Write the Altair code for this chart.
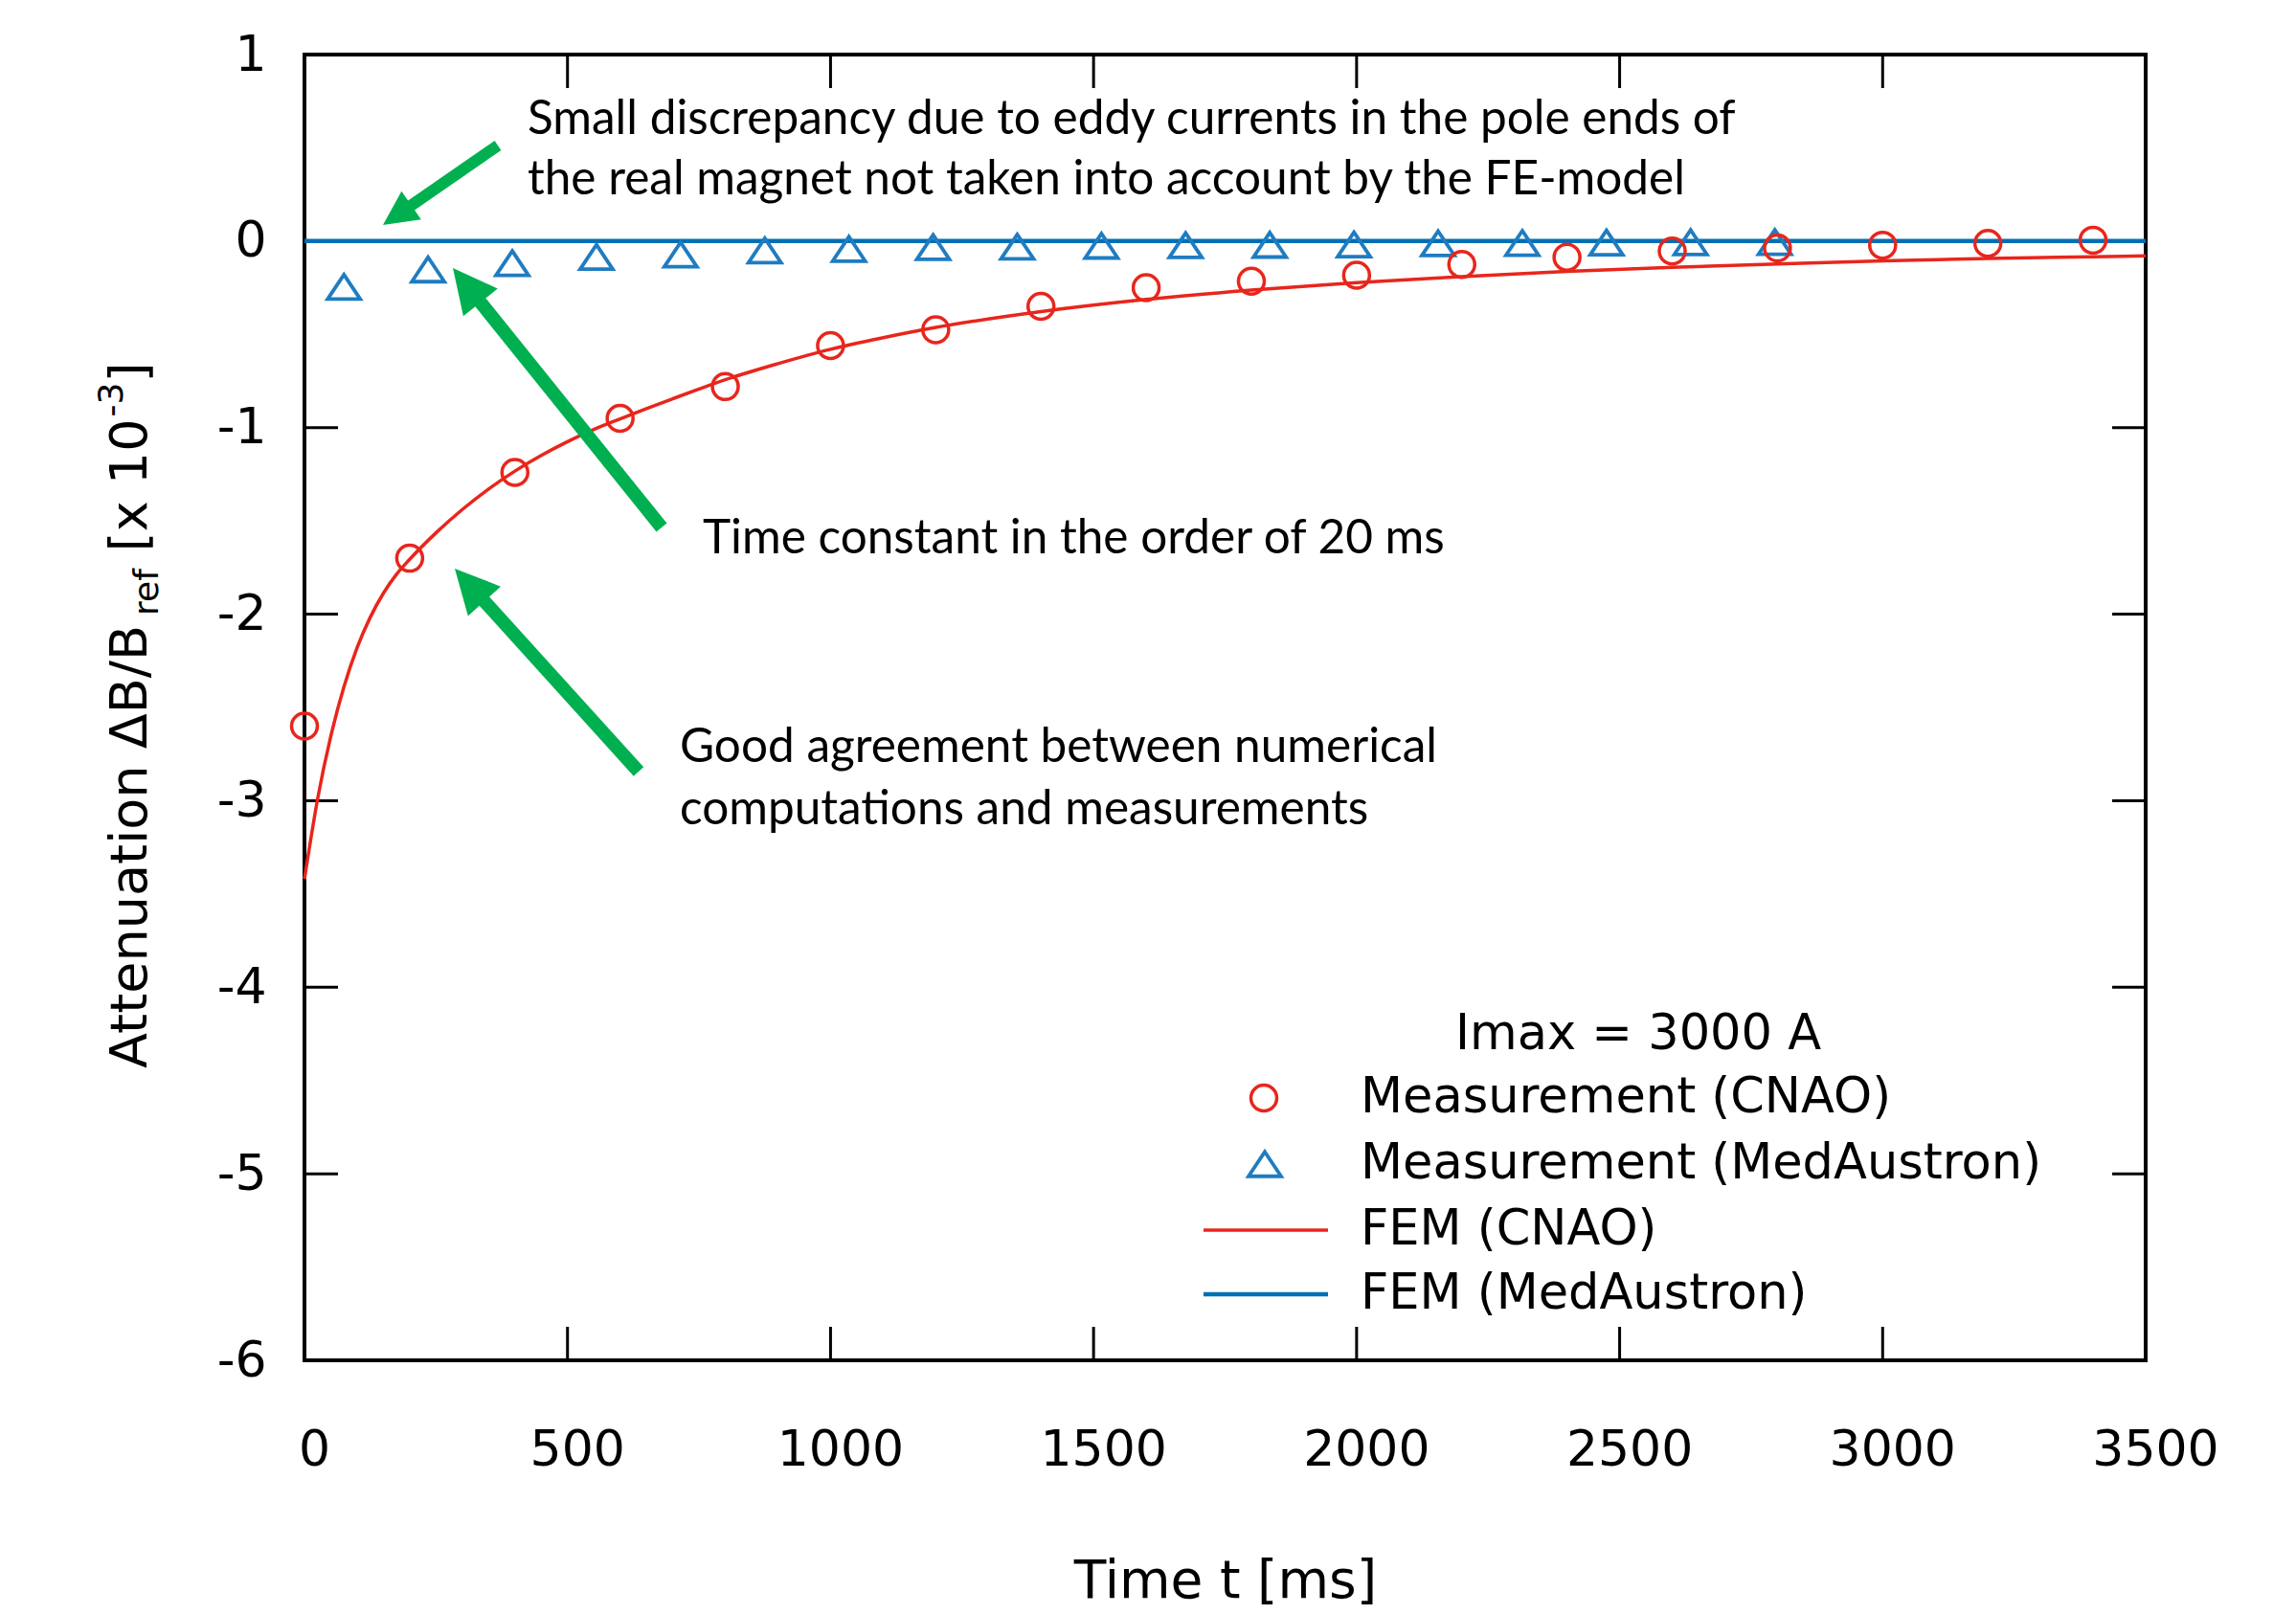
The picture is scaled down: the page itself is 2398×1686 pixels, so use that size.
import math
import altair as alt
import pandas as pd

# ---------------- data ----------------
cnao_meas_t = [0, 200, 400, 600, 800, 1000, 1200, 1400, 1600, 1800, 2000, 2200, 2400, 2600, 2800, 3000, 3200, 3400]
cnao_meas_y = [-2.60, -1.70, -1.24, -0.95, -0.78, -0.56, -0.475, -0.35, -0.25, -0.215, -0.183, -0.125,
               -0.087, -0.053, -0.037, -0.022, -0.012, 0.005]

med_meas_t = [75, 235, 395, 555, 715, 875, 1035, 1195, 1355, 1515, 1675, 1835, 1995, 2155, 2315, 2475, 2635, 2795]
med_meas_y = [-0.245, -0.152, -0.118, -0.085, -0.072, -0.05, -0.042, -0.032, -0.03, -0.025, -0.022, -0.02,
              -0.018, -0.012, -0.01, -0.008, -0.006, -0.005]

fem_cnao_t = [0, 25, 50, 75, 100, 125, 150, 175, 200, 250, 300, 350, 400, 450, 500, 550, 600, 650, 700, 750,
              800, 900, 1000, 1100, 1200, 1400, 1600, 1800, 2000, 2200, 2400, 2600, 2800, 3000, 3200, 3400, 3500]
fem_cnao_y = [-3.42, -2.99, -2.655, -2.39, -2.18, -2.017, -1.888, -1.786, -1.706, -1.564, -1.439, -1.329,
              -1.233, -1.149, -1.075, -1.010, -0.953, -0.898, -0.845, -0.793, -0.743, -0.657, -0.58, -0.518,
              -0.463, -0.378, -0.313, -0.263, -0.223, -0.19, -0.163, -0.141, -0.122, -0.106, -0.093, -0.084,
              -0.079]

fem_med_t = [0, 3500]
fem_med_y = [0.0, 0.0]

x_tick_values = [0, 500, 1000, 1500, 2000, 2500, 3000, 3500]
y_tick_values = [-6, -5, -4, -3, -2, -1, 0, 1]
inner_x_ticks = [500, 1000, 1500, 2000, 2500, 3000]
inner_y_ticks = [-5, -4, -3, -2, -1, 0]

legend_title = "Imax = 3000 A"
legend_labels = ["Measurement (CNAO)", "Measurement (MedAustron)", "FEM (CNAO)", "FEM (MedAustron)"]

note_lines = [
    "Small discrepancy due to eddy currents in the pole ends of",
    "the real magnet not taken into account by the FE-model",
    "Time constant in the order of 20 ms",
    "Good agreement between numerical",
    "computations and measurements",
]

x_title = "Time t [ms]"
y_title_pieces = ["Attenuation \u0394B/B", "ref", "[x 10", "-3", "]"]

# ---------------- layout / style ----------------
X_DOMAIN = [0, 3500]
Y_DOMAIN = [-6, 1]
W, H = 1923, 1364
LEFT, TOP = 318, 57
PAD_RIGHT = 2398 - LEFT - W
PAD_BOTTOM = 1686 - TOP - H

RED = "#e8261c"
BLUE_LINE = "#0070b4"
BLUE_MARK = "#1f7cc0"
GREEN = "#00b050"
AX_FONT = "DejaVu Sans"
NOTE_FONT = "Lato"


def dx(page_x):
    return X_DOMAIN[0] + (page_x - LEFT) / W * (X_DOMAIN[1] - X_DOMAIN[0])


def dy(page_y):
    return Y_DOMAIN[1] - (page_y - TOP) / H * (Y_DOMAIN[1] - Y_DOMAIN[0])


XSCALE = alt.Scale(domain=X_DOMAIN, nice=False, zero=False)
YSCALE = alt.Scale(domain=Y_DOMAIN, nice=False, zero=False)

XAXIS = alt.Axis(values=x_tick_values, title=x_title, format="d", labelOffset=10, labelPadding=68,
                 titlePadding=85, domain=False, ticks=False, tickSize=0, grid=False, labelFontSize=52,
                 titleFontSize=55, labelFont=AX_FONT, titleFont=AX_FONT, titleFontWeight="normal",
                 labelColor="black", titleColor="black", labelFlush=False, labelOverlap=False)
YAXIS = alt.Axis(values=y_tick_values, title="", labelPadding=40, domain=False, ticks=False, tickSize=0,
                 grid=False, labelFontSize=52, labelFont=AX_FONT, labelColor="black", labelOverlap=False,
                 labelExpr="datum.value < 0 ? '-' + (-datum.value) : '' + datum.value")


def X(f="x"):
    return alt.X(f"{f}:Q", scale=XSCALE, axis=XAXIS)


def Y(f="y"):
    return alt.Y(f"{f}:Q", scale=YSCALE, axis=YAXIS)


# ---------------- inward ticks on all four sides ----------------
tlx = 35 / W * (X_DOMAIN[1] - X_DOMAIN[0])
tly = 35 / H * (Y_DOMAIN[1] - Y_DOMAIN[0])
tick_rows = []
for v in inner_x_ticks:
    tick_rows.append({"x": v, "y": Y_DOMAIN[0], "x2": v, "y2": Y_DOMAIN[0] + tly})
    tick_rows.append({"x": v, "y": Y_DOMAIN[1], "x2": v, "y2": Y_DOMAIN[1] - tly})
for v in inner_y_ticks:
    tick_rows.append({"x": X_DOMAIN[0], "y": v, "x2": X_DOMAIN[0] + tlx, "y2": v})
    tick_rows.append({"x": X_DOMAIN[1], "y": v, "x2": X_DOMAIN[1] - tlx, "y2": v})
ticks = alt.Chart(pd.DataFrame(tick_rows)).mark_rule(color="black", strokeWidth=3).encode(
    x=X(), y=Y(), x2="x2:Q", y2="y2:Q")

# ---------------- series ----------------
fem_med = alt.Chart(pd.DataFrame({"x": fem_med_t, "y": fem_med_y})).mark_line(
    color=BLUE_LINE, strokeWidth=4.5).encode(x=X(), y=Y())
fem_cnao = alt.Chart(pd.DataFrame({"x": fem_cnao_t, "y": fem_cnao_y})).mark_line(
    color=RED, strokeWidth=3.5, interpolate="monotone").encode(x=X(), y=Y())

TRI = "M0,-0.75L1,0.75L-1,0.75Z"
med_pts = alt.Chart(pd.DataFrame({"x": med_meas_t, "y": med_meas_y})).mark_point(
    shape=TRI, size=1156, strokeWidth=3.8, color=BLUE_MARK, filled=False, opacity=1).encode(x=X(), y=Y())
cnao_pts = alt.Chart(pd.DataFrame({"x": cnao_meas_t, "y": cnao_meas_y})).mark_point(
    shape="circle", size=729, strokeWidth=3.5, color=RED, filled=False, opacity=1).encode(x=X(), y=Y())

# ---------------- green arrows ----------------
arrow_geom = [  # tail(page px), tip(page px), head length, shaft width
    ((520, 152), (400, 235), 36, 12),
    ((691, 551), (473, 280), 46, 14),
    ((667, 806), (475, 594), 46, 14),
]
shaft_rows, head_rows = [], []
for (tx, ty), (px, py), L, sw in arrow_geom:
    vx, vy = px - tx, py - ty
    n = math.hypot(vx, vy)
    ux, uy = vx / n, vy / n
    hx, hy = px - ux * L / 2, py - uy * L / 2
    ang = math.degrees(math.atan2(ux, -uy)) % 360
    shaft_rows.append({"x": dx(tx), "y": dy(ty), "x2": dx(hx), "y2": dy(hy), "w": sw})
    head_rows.append({"x": dx(hx), "y": dy(hy), "a": ang, "s": L * L})
shafts = alt.Chart(pd.DataFrame(shaft_rows)).mark_rule(color=GREEN, strokeCap="butt").encode(
    x=X(), y=Y(), x2="x2:Q", y2="y2:Q", strokeWidth=alt.StrokeWidth("w:Q", scale=None, legend=None))
heads = alt.Chart(pd.DataFrame(head_rows)).mark_point(
    shape="M0,-1L1,1L-1,1Z", filled=True, color=GREEN, opacity=1, strokeWidth=0).encode(
    x=X(), y=Y(), angle=alt.Angle("a:Q", scale=None),
    size=alt.Size("s:Q", scale=None, legend=None))

# ---------------- annotation texts ----------------
note_pos = [(551, 125), (551, 188), (734, 563), (710, 781), (710, 846)]
notes = alt.Chart(pd.DataFrame({
    "x": [dx(p[0]) for p in note_pos], "y": [dy(p[1]) for p in note_pos], "t": note_lines})).mark_text(
    align="left", baseline="middle", font=NOTE_FONT, fontSize=49.5, color="black").encode(
    x=X(), y=Y(), text="t:N")

# ---------------- legend (drawn by hand) ----------------
leg_title = alt.Chart(pd.DataFrame({"x": [dx(1711)], "y": [dy(1081)], "t": [legend_title]})).mark_text(
    align="center", baseline="middle", font=AX_FONT, fontSize=51, color="black").encode(
    x=X(), y=Y(), text="t:N")
leg_rows_y = [1147, 1216, 1285, 1352]
leg_text = alt.Chart(pd.DataFrame({
    "x": [dx(1421)] * 4, "y": [dy(v) for v in leg_rows_y], "t": legend_labels})).mark_text(
    align="left", baseline="middle", font=AX_FONT, fontSize=51, color="black").encode(
    x=X(), y=Y(), text="t:N")
leg_circle = alt.Chart(pd.DataFrame({"x": [dx(1320)], "y": [dy(1147)]})).mark_point(
    shape="circle", size=729, strokeWidth=3.5, color=RED, filled=False, opacity=1).encode(x=X(), y=Y())
leg_tri = alt.Chart(pd.DataFrame({"x": [dx(1321)], "y": [dy(1216)]})).mark_point(
    shape=TRI, size=1156, strokeWidth=3.8, color=BLUE_MARK, filled=False, opacity=1).encode(x=X(), y=Y())
leg_red = alt.Chart(pd.DataFrame({"x": [dx(1257)], "x2": [dx(1387)], "y": [dy(1285)]})).mark_rule(
    color=RED, strokeWidth=3.5).encode(x=X(), x2="x2:Q", y=Y())
leg_blue = alt.Chart(pd.DataFrame({"x": [dx(1257)], "x2": [dx(1387)], "y": [dy(1352)]})).mark_rule(
    color=BLUE_LINE, strokeWidth=4.5).encode(x=X(), x2="x2:Q", y=Y())

# ---------------- y-axis title with sub/superscript ----------------
y_start = 1116
main_fs, small_fs = 54, 36
widths_px = [471, 49.6, 139, 35.9, 21]
gaps_px = [0, 2, 17, 2, 0]
sizes = [main_fs, small_fs, main_fs, small_fs, main_fs]
base_x = [153, 165, 153, 128, 153]
rows = []
cur = y_start
for txt, wpx, gap, fs, bx in zip(y_title_pieces, widths_px, gaps_px, sizes, base_x):
    cur -= gap
    rows.append({"x": dx(bx), "y": dy(cur), "t": txt, "fs": fs})
    cur -= wpx
ytitle = alt.Chart(pd.DataFrame(rows)).mark_text(
    angle=270, align="left", baseline="alphabetic", font=AX_FONT, color="black").encode(
    x=X(), y=Y(), text="t:N", size=alt.Size("fs:Q", scale=None, legend=None))

chart = alt.layer(
    ticks, fem_med, fem_cnao, med_pts, cnao_pts, shafts, heads, notes,
    leg_title, leg_text, leg_circle, leg_tri, leg_red, leg_blue, ytitle
).properties(
    width=W, height=H,
    autosize=alt.AutoSizeParams(type="none"),
    padding={"left": LEFT, "top": TOP, "right": PAD_RIGHT, "bottom": PAD_BOTTOM},
    background="white",
).configure_view(stroke="black", strokeWidth=4)

chart.save("out.html", embed_options={"renderer": "svg", "actions": False})
